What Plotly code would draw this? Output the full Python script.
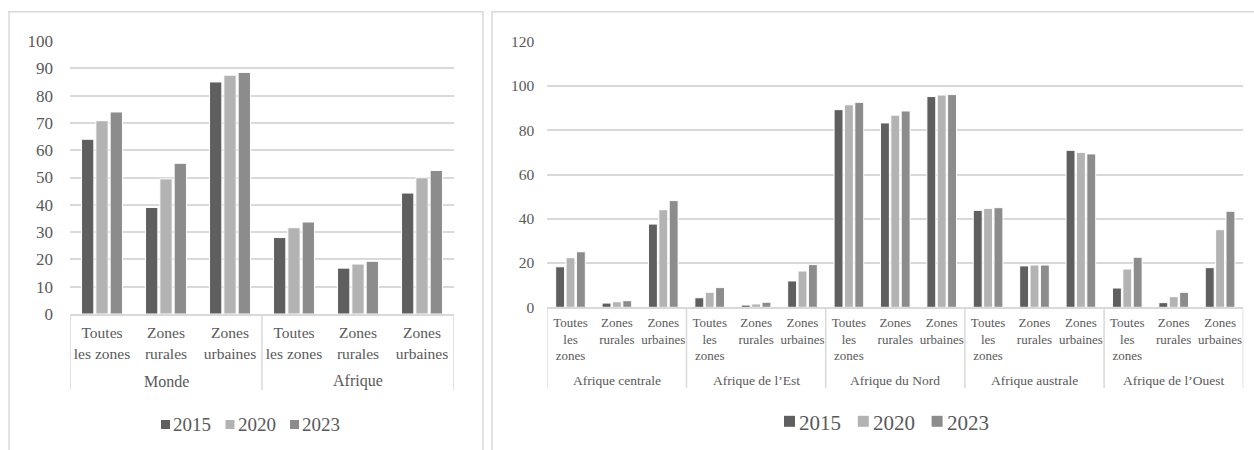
import plotly.graph_objects as go

# ---------------- data ----------------
years = ["2015", "2020", "2023"]

left_groups = ["Monde", "Afrique"]
left_zones = ["Toutes<br>les zones", "Zones<br>rurales", "Zones<br>urbaines"]
left_2015 = [64.0, 39.0, 85.0, 28.0, 16.8, 44.3]
left_2020 = [70.8, 49.5, 87.5, 31.6, 18.3, 49.9]
left_2023 = [74.0, 55.2, 88.5, 33.7, 19.3, 52.6]

right_groups = ["Afrique centrale", "Afrique de l’Est", "Afrique du Nord",
                "Afrique australe", "Afrique de l’Ouest"]
right_zones = ["Toutes<br>les<br>zones", "Zones<br>rurales", "Zones<br>urbaines"]
right_2015 = [18.3, 1.9, 37.6, 4.3, 1.0, 11.9, 89.3, 83.3, 95.2, 43.8, 18.7, 70.9, 8.7, 2.1, 17.9]
right_2020 = [22.4, 2.5, 44.1, 6.8, 1.5, 16.4, 91.5, 86.8, 95.9, 44.7, 19.1, 70.0, 17.3, 4.8, 35.1]
right_2023 = [25.1, 3.0, 48.2, 8.9, 2.3, 19.3, 92.6, 88.7, 96.1, 45.0, 19.1, 69.3, 22.6, 6.8, 43.4]

# ---------------- style ----------------
W, H = 1254, 450
FONT = "Liberation Serif, Times New Roman, DejaVu Serif, serif"
TXT = "#595959"
GRID = "#d9d9d9"
colors = ["#5f5f5f", "#b3b3b3", "#8c8c8c"]


def fx(p):
    return p / W


def fy(p):
    return 1 - p / H


left_x = list(range(len(left_groups) * len(left_zones)))
left_text = [z for g in left_groups for z in left_zones]
right_x = list(range(len(right_groups) * len(right_zones)))
right_text = [z for g in right_groups for z in right_zones]

fig = go.Figure()
for yr, vals, c in zip(years, [left_2015, left_2020, left_2023], colors):
    fig.add_trace(go.Bar(x=left_x, y=vals, name=yr, xaxis="x", yaxis="y",
                         marker=dict(color=c, line=dict(color="white", width=1))))
for yr, vals, c in zip(years, [right_2015, right_2020, right_2023], colors):
    fig.add_trace(go.Bar(x=right_x, y=vals, name=yr, xaxis="x2", yaxis="y2",
                         marker=dict(color=c, line=dict(color="white", width=1))))

shapes = []
annotations = []
# panel borders
shapes.append(dict(type="rect", xref="paper", yref="paper",
                   x0=fx(9), x1=fx(483), y0=fy(470), y1=fy(11.7),
                   line=dict(color=GRID, width=1.5), layer="below"))
shapes.append(dict(type="rect", xref="paper", yref="paper",
                   x0=fx(492), x1=fx(1270), y0=fy(470), y1=fy(11.7),
                   line=dict(color=GRID, width=1.5), layer="below"))
# category dividers
nz = len(left_zones)
for i in range(len(left_groups) + 1):
    xv = i * nz - 0.5
    shapes.append(dict(type="line", xref="x", yref="paper", x0=xv, x1=xv,
                       y0=fy(314), y1=fy(390), line=dict(color=GRID, width=1.5)))
nz2 = len(right_zones)
for i in range(len(right_groups) + 1):
    xv = i * nz2 - 0.5
    shapes.append(dict(type="line", xref="x2", yref="paper", x0=xv, x1=xv,
                       y0=fy(307.3), y1=fy(388), line=dict(color=GRID, width=1.5)))

for i, g in enumerate(left_groups):
    annotations.append(dict(text=g, xref="x", yref="paper", x=i * nz + (nz - 1) / 2,
                            y=fy(381), showarrow=False, yanchor="middle",
                            font=dict(family=FONT, size=16, color=TXT)))
for i, g in enumerate(right_groups):
    annotations.append(dict(text=g, xref="x2", yref="paper", x=i * nz2 + (nz2 - 1) / 2,
                            y=fy(380), showarrow=False, yanchor="middle",
                            font=dict(family=FONT, size=13.5, color=TXT)))


# legends (square key + text), one per panel
def add_legend(x_start, pitch, sq, text_off, y_sq, y_txt, fsize):
    for k, (yr, c) in enumerate(zip(years, colors)):
        x0 = x_start + k * pitch
        shapes.append(dict(type="rect", xref="paper", yref="paper",
                           x0=fx(x0), x1=fx(x0 + sq),
                           y0=fy(y_sq + sq / 2), y1=fy(y_sq - sq / 2),
                           fillcolor=c, line=dict(width=0)))
        annotations.append(dict(text=yr, xref="paper", yref="paper",
                                x=fx(x0 + text_off), y=fy(y_txt),
                                xanchor="left", yanchor="middle", showarrow=False,
                                borderpad=0,
                                font=dict(family=FONT, size=fsize, color=TXT)))


add_legend(161, 64.5, 9, 11, 424.5, 424, 19)
add_legend(784, 73.8, 11, 14, 421.3, 422.5, 21)

fig.update_layout(
    template="none",
    width=W, height=H,
    margin=dict(l=0, r=0, t=0, b=0, autoexpand=False),
    paper_bgcolor="white", plot_bgcolor="white",
    font=dict(family=FONT, color=TXT),
    showlegend=False,
    barmode="group", bargap=0.33, bargroupgap=0.14,
    xaxis=dict(domain=[fx(70), fx(454)], anchor="y", range=[-0.5, len(left_x) - 0.5],
               tickmode="array", tickvals=left_x, ticktext=left_text,
               showgrid=False, zeroline=False, showline=True, linecolor=GRID, linewidth=1.5,
               ticks="", ticklabelstandoff=4,
               tickfont=dict(family=FONT, size=15.5, color=TXT),
               automargin=False, fixedrange=True),
    yaxis=dict(domain=[fy(314), fy(41)], anchor="x", range=[0, 100], dtick=10,
               showgrid=True, gridcolor=GRID, gridwidth=1.5, zeroline=False,
               showline=False, ticks="", ticklabelstandoff=16,
               tickfont=dict(family=FONT, size=17, color=TXT),
               automargin=False, fixedrange=True),
    xaxis2=dict(domain=[fx(547.3), fx(1243.3)], anchor="y2", range=[-0.5, len(right_x) - 0.5],
                tickmode="array", tickvals=right_x, ticktext=right_text,
                showgrid=False, zeroline=False, showline=True, linecolor=GRID, linewidth=1.5,
                ticks="", ticklabelstandoff=2,
                tickfont=dict(family=FONT, size=13, color=TXT),
                automargin=False, fixedrange=True),
    yaxis2=dict(domain=[fy(307.3), fy(41.7)], anchor="x2", range=[0, 120], dtick=20,
                showgrid=True, gridcolor=GRID, gridwidth=1.5, zeroline=False,
                showline=False, ticks="", ticklabelstandoff=12,
                tickfont=dict(family=FONT, size=15.5, color=TXT),
                automargin=False, fixedrange=True),
    shapes=shapes,
    annotations=annotations,
)

fig.write_html("out.html", config={"displayModeBar": False},
               post_script="document.body.style.margin='0';document.body.style.overflow='hidden';")
